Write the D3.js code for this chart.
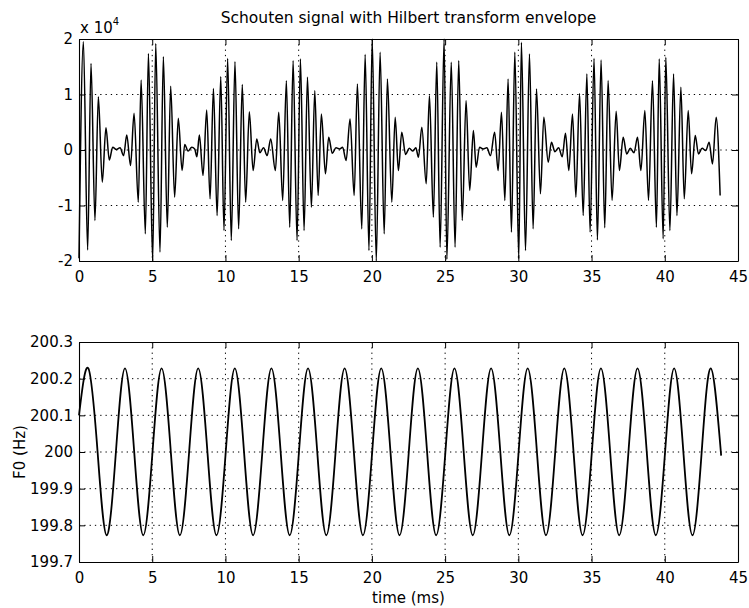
<!DOCTYPE html>
<html>
<head>
<meta charset="utf-8">
<script src="https://d3js.org/d3.v7.min.js"></script>
<style>
  body { margin: 0; background: #fff; }
  svg text { font-family: "DejaVu Sans", Verdana, sans-serif; fill: #000; }
</style>
</head>
<body>
<svg id="chart" width="749" height="608"></svg>
<script>
// Tick values
const timeTicks = [0, 5, 10, 15, 20, 25, 30, 35, 40, 45];
const signalTicks = [-2, -1, 0, 1, 2];
const f0Ticks = [199.7, 199.8, 199.9, 200, 200.1, 200.2, 200.3];

// Schouten signal, extrema (time in ms, amplitude in units of 1e4)
const sigTime = [
  0.00, 0.30, 0.59, 0.82, 1.09, 1.32, 1.59, 1.84, 2.07, 2.30, 2.55, 2.80, 3.05,
  3.26, 3.52, 3.76, 4.05, 4.24, 4.53, 4.74, 5.03, 5.24, 5.53, 5.76, 6.03, 6.26, 6.53, 6.78, 7.04, 7.22, 7.45, 7.70, 7.90, 8.05,
  8.22, 8.47, 8.72, 8.95, 9.18, 9.43, 9.68, 9.90, 10.15, 10.40, 10.65, 10.90, 11.15, 11.38, 11.63, 11.89, 12.14, 12.35, 12.60, 12.85, 13.09,
  13.41, 13.64, 13.91, 14.16, 14.39, 14.62, 14.89, 15.12, 15.37, 15.60, 15.87, 16.10, 16.33, 16.55, 16.83, 17.05, 17.30, 17.55, 17.80, 18.00,
  18.24, 18.51, 18.79, 19.01, 19.31, 19.54, 19.80, 20.02, 20.30, 20.56, 20.84, 21.06, 21.36, 21.59, 21.81, 22.04, 22.30, 22.55, 22.80, 23.00, 23.18,
  23.41, 23.71, 23.93, 24.20, 24.43, 24.66, 24.93, 25.12, 25.42, 25.68, 25.93, 26.17, 26.43, 26.68, 26.93, 27.12, 27.35, 27.60, 27.85, 28.10,
  28.38, 28.62, 28.85, 29.08, 29.30, 29.53, 29.76, 30.03, 30.21, 30.49, 30.76, 31.01, 31.24, 31.51, 31.74, 32.04, 32.26, 32.50, 32.75, 33.00,
  33.22, 33.45, 33.70, 33.93, 34.18, 34.43, 34.68, 34.90, 35.17, 35.40, 35.65, 35.90, 36.13, 36.40, 36.68, 36.90, 37.16, 37.40, 37.65, 37.90,
  38.14, 38.37, 38.64, 38.89, 39.16, 39.43, 39.62, 39.89, 40.07, 40.35, 40.60, 40.83, 41.10, 41.33, 41.60, 41.83, 42.08, 42.30, 42.55, 42.80,
  43.03, 43.26, 43.51, 43.78
];
const sigValue = [
  -1.95, 1.95, -1.80, 1.56, -1.27, 0.96, -0.58, 0.40, -0.18, 0.05, 0.01, 0.04, -0.10,
  0.27, -0.28, 0.66, -0.94, 1.26, -1.51, 1.74, -2.00, 1.92, -1.84, 1.68, -1.39, 1.15, -0.85, 0.57, -0.37, 0.10, -0.02, 0.05, 0.02, -0.12,
  0.27, -0.46, 0.72, -0.88, 1.11, -1.18, 1.32, -1.45, 1.65, -1.63, 1.59, -1.42, 1.18, -0.94, 0.69, -0.37, 0.20, -0.05, 0.04, -0.10, 0.20,
  -0.37, 0.68, -0.91, 1.25, -1.39, 1.61, -1.63, 1.64, -1.45, 1.31, -1.03, 1.07, -0.82, 0.65, -0.43, 0.23, -0.06, 0.04, 0.02, 0.05,
  -0.19, 0.56, -0.82, 1.19, -1.42, 1.72, -1.81, 2.00, -2.00, 1.76, -1.51, 1.28, -0.94, 0.59, -0.37, 0.32, -0.08, 0.03, -0.02, 0.04, -0.13,
  0.41, -0.61, 0.98, -1.21, 1.58, -1.75, 2.00, -1.97, 1.58, -1.75, 1.61, -1.27, 0.89, -0.73, 0.35, -0.31, 0.05, 0.02, 0.04, -0.10,
  0.32, -0.37, 0.68, -0.91, 1.28, -1.48, 1.76, -1.96, 1.94, -1.81, 1.73, -1.42, 1.10, -0.79, 0.59, -0.22, 0.14, -0.03, 0.04, -0.12,
  0.30, -0.37, 0.65, -0.85, 1.02, -1.18, 1.37, -1.48, 1.65, -1.62, 1.62, -1.40, 1.25, -0.91, 0.70, -0.37, 0.23, -0.07, 0.03, -0.05,
  0.23, -0.37, 0.71, -0.91, 1.25, -1.39, 1.64, -1.60, 1.67, -1.45, 1.37, -1.18, 1.13, -0.88, 0.71, -0.43, 0.26, -0.07, 0.03, -0.01,
  0.14, -0.25, 0.59, -0.82
];

// F0 estimate (Hz): peaks, zero crossings and troughs
const f0Time = [
  0.00, 0.64, 1.27, 1.89, 2.52, 3.14, 3.77, 4.39, 5.02, 5.64, 6.27, 6.89, 7.52,
  8.14, 8.77, 9.39, 10.02, 10.64, 11.27, 11.89, 12.52, 13.14, 13.77, 14.39, 15.02,
  15.64, 16.27, 16.89, 17.52, 18.14, 18.77, 19.39, 20.02, 20.64, 21.27, 21.89, 22.52,
  23.14, 23.77, 24.39, 25.02, 25.64, 26.27, 26.89, 27.52, 28.14, 28.77, 29.39, 30.02,
  30.64, 31.27, 31.89, 32.52, 33.14, 33.77, 34.39, 35.02, 35.64, 36.27, 36.89, 37.52,
  38.14, 38.77, 39.39, 40.02, 40.64, 41.27, 41.89, 42.52, 43.14, 43.85
];
const f0Value = [
  200.10, 200.228, 200.0, 199.773, 200.0, 200.228, 200.0, 199.773, 200.0, 200.228, 200.0, 199.773, 200.0,
  200.228, 200.0, 199.773, 200.0, 200.228, 200.0, 199.773, 200.0, 200.228, 200.0, 199.773, 200.0,
  200.228, 200.0, 199.773, 200.0, 200.228, 200.0, 199.773, 200.0, 200.228, 200.0, 199.773, 200.0,
  200.228, 200.0, 199.773, 200.0, 200.228, 200.0, 199.773, 200.0, 200.228, 200.0, 199.773, 200.0,
  200.228, 200.0, 199.773, 200.0, 200.228, 200.0, 199.773, 200.0, 200.228, 200.0, 199.773, 200.0,
  200.228, 200.0, 199.773, 200.0, 200.228, 200.0, 199.773, 200.0, 200.228, 199.99
];

const signalData = sigTime.map((t, i) => ({ t: t, v: sigValue[i] }));
const f0Data = f0Time.map((t, i) => ({ t: t, v: f0Value[i] }));

const svg = d3.select("#chart");
const left = 79, right = 738, tick = 6;
const x = d3.scaleLinear().domain([0, 45]).range([left, right]);

// Helper to draw one MATLAB style panel (box, inward ticks, dotted grid)
function createPanel(y, yTicks, yFormat, top, bottom) {
  const g = svg.append("g");

  // dotted grid
  g.selectAll(".vgrid")
    .data(timeTicks.slice(1, -1))
    .enter().append("line")
    .attr("x1", d => x(d)).attr("x2", d => x(d))
    .attr("y1", top).attr("y2", bottom)
    .attr("stroke", "#000").attr("stroke-width", 1)
    .attr("stroke-dasharray", "1.3,4");
  g.selectAll(".hgrid")
    .data(yTicks.slice(1, -1))
    .enter().append("line")
    .attr("x1", left).attr("x2", right)
    .attr("y1", d => y(d)).attr("y2", d => y(d))
    .attr("stroke", "#000").attr("stroke-width", 1)
    .attr("stroke-dasharray", "1.3,4");

  const axes = svg.append("g").attr("class", "axes");
  axes.append("g").attr("transform", `translate(0,${bottom})`)
    .call(d3.axisBottom(x).tickValues(timeTicks).tickSize(-tick).tickSizeOuter(0).tickPadding(10).tickFormat(d => String(d)));
  axes.append("g").attr("transform", `translate(0,${top})`)
    .call(d3.axisTop(x).tickValues(timeTicks).tickSize(-tick).tickSizeOuter(0).tickFormat(""));
  axes.append("g").attr("transform", `translate(${left},0)`)
    .call(d3.axisLeft(y).tickValues(yTicks).tickSize(-tick).tickSizeOuter(0).tickPadding(6).tickFormat(yFormat));
  axes.append("g").attr("transform", `translate(${right},0)`)
    .call(d3.axisRight(y).tickValues(yTicks).tickSize(-tick).tickSizeOuter(0).tickFormat(""));

  axes.selectAll("path.domain").attr("stroke", "#000").attr("stroke-width", 1.1);
  axes.selectAll(".tick line").attr("stroke", "#000");
  axes.selectAll(".tick text")
    .attr("fill", "#000")
    .style("font-size", "15px")
    .style("font-family", '"DejaVu Sans", Verdana, sans-serif');
  return axes;
}

// Top panel: signal
const ySig = d3.scaleLinear().domain([-2, 2]).range([261, 39]);
const sigLine = d3.line().x(d => x(d.t)).y(d => ySig(d.v)).curve(d3.curveMonotoneX);
createPanel(ySig, signalTicks, d => String(d), 39, 261);
svg.insert("path", ".axes")
  .datum(signalData)
  .attr("fill", "none")
  .attr("stroke", "#000")
  .attr("stroke-width", 1.5)
  .attr("d", sigLine);

// Bottom panel: F0
const yF0 = d3.scaleLinear().domain([199.7, 200.3]).range([562, 342]);
const f0Line = d3.line().x(d => x(d.t)).y(d => yF0(d.v)).curve(d3.curveNatural);
createPanel(yF0, f0Ticks, d => String(Math.round(d * 10) / 10), 342, 562);
svg.insert("path", ".axes")
  .datum(f0Data)
  .attr("fill", "none")
  .attr("stroke", "#000")
  .attr("stroke-width", 1.8)
  .attr("d", f0Line);

// Texts
svg.append("text")
  .attr("x", (left + right) / 2).attr("y", 23)
  .attr("text-anchor", "middle")
  .style("font-size", "15.5px")
  .text("Schouten signal with Hilbert transform envelope");

const expo = svg.append("text").attr("x", left + 1).attr("y", 33).style("font-size", "15px");
expo.append("tspan").text("x 10");
expo.append("tspan").attr("dy", -8).style("font-size", "10px").text("4");

svg.append("text")
  .attr("transform", `translate(25,${(342 + 562) / 2}) rotate(-90)`)
  .attr("text-anchor", "middle")
  .style("font-size", "15px")
  .text("F0 (Hz)");

svg.append("text")
  .attr("x", (left + right) / 2).attr("y", 603)
  .attr("text-anchor", "middle")
  .style("font-size", "15px")
  .text("time (ms)");
</script>
</body>
</html>
